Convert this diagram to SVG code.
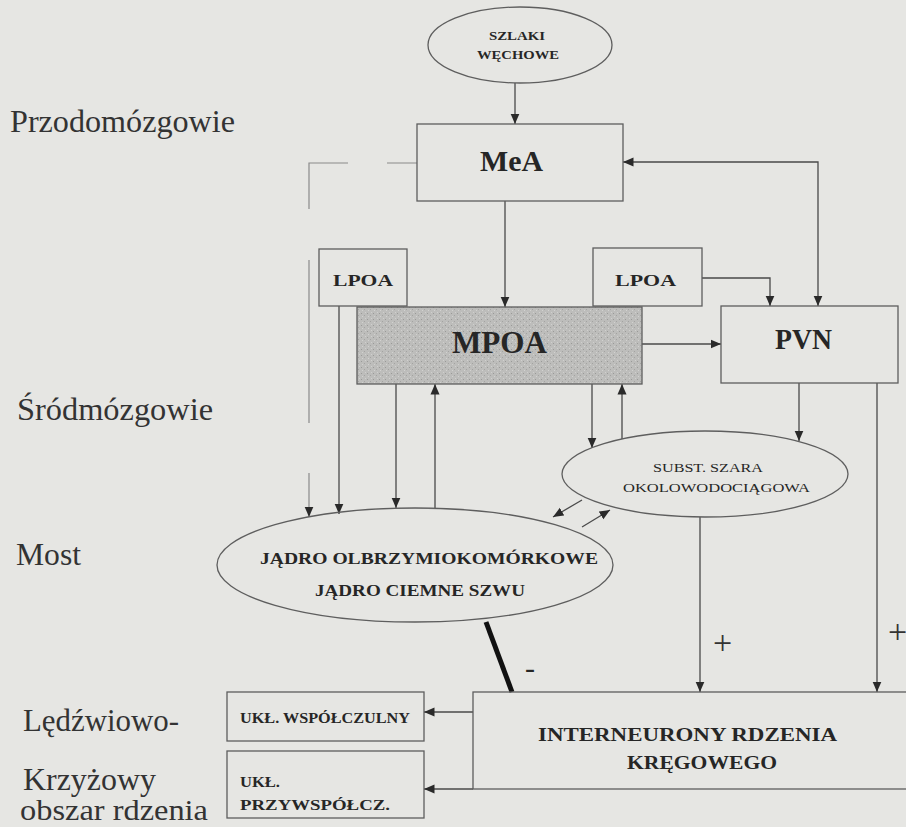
<svg xmlns="http://www.w3.org/2000/svg" width="906" height="827" viewBox="0 0 906 827">
<style>
  .bg { fill: #e6e6e3; }
  .box { fill: none; stroke: #5e5e5e; stroke-width: 1.3; }
  .ell { fill: none; stroke: #5e5e5e; stroke-width: 1.3; }
  .mpoa { fill: url(#stipple); stroke: #5e5e5e; stroke-width: 1.3; }
  .ln { fill: none; stroke: #4a4a4a; stroke-width: 1.3; }
  .faint { fill: none; stroke: #8a8a8a; stroke-width: 1.2; }
  .inh { fill: none; stroke: #111; stroke-width: 5; }
  .t { font-family: "Liberation Serif", "Times New Roman", serif; fill: #262626; }
  .b { font-weight: bold; }
  .lab { font-size: 32px; fill: #333; }
  .sign { font-size: 34px; fill: #333; }
</style>
<defs>
  <marker id="ah" markerUnits="userSpaceOnUse" markerWidth="11" markerHeight="10" refX="10.5" refY="5" orient="auto-start-reverse">
    <path d="M0,0.5 L10.5,5 L0,9.5 z" fill="#2a2a2a"/>
  </marker>
  <pattern id="stipple" patternUnits="userSpaceOnUse" width="6" height="6">
    <rect width="6" height="6" fill="#bdbdbb"/>
    <rect x="1" y="1" width="1" height="1" fill="#9a9a98"/>
    <rect x="4" y="3" width="1" height="1" fill="#a3a3a1"/>
    <rect x="2" y="4" width="1" height="1" fill="#d2d2d0"/>
    <rect x="5" y="0" width="1" height="1" fill="#d0d0ce"/>
  </pattern>
</defs>
<rect class="bg" x="0" y="0" width="906" height="827"/>

<g id="region-labels">
  <text class="t lab" x="10" y="132" textLength="225" lengthAdjust="spacingAndGlyphs">Przodomózgowie</text>
  <text class="t lab" x="17" y="420" textLength="196" lengthAdjust="spacingAndGlyphs">Śródmózgowie</text>
  <text class="t lab" x="16" y="565" textLength="65" lengthAdjust="spacingAndGlyphs">Most</text>
  <text class="t lab" x="23" y="731" textLength="156" lengthAdjust="spacingAndGlyphs">Lędźwiowo-</text>
  <text class="t lab" x="23" y="790" textLength="133" lengthAdjust="spacingAndGlyphs">Krzyżowy</text>
  <text class="t" x="20" y="820" style="font-size:29px;fill:#333" textLength="188" lengthAdjust="spacingAndGlyphs">obszar rdzenia</text>
</g>

<g id="connectors">
  <path class="ln" d="M515,83 V124" marker-end="url(#ah)"/>
  <path class="ln" d="M505,201 V307" marker-end="url(#ah)"/>
  <path class="faint" d="M417,163 H387 M348,163 H309 V209 M309,260 V423 M309,473 V517" marker-end="url(#ah)"/>
  <path class="ln" d="M339,306 V514" marker-end="url(#ah)"/>
  <path class="ln" d="M396,384 V508" marker-end="url(#ah)"/>
  <path class="ln" d="M435,508 V384" marker-end="url(#ah)"/>
  <path class="ln" d="M592,384 V448" marker-end="url(#ah)"/>
  <path class="ln" d="M622,439 V384" marker-end="url(#ah)"/>
  <path class="ln" d="M582,500 L553,517" marker-end="url(#ah)"/>
  <path class="ln" d="M582,527 L610,510" marker-end="url(#ah)"/>
  <path class="ln" d="M642,344 H721" marker-end="url(#ah)"/>
  <path class="ln" d="M702,278 H770 V306" marker-end="url(#ah)"/>
  <path class="ln" d="M623,162 H818 V306" marker-start="url(#ah)" marker-end="url(#ah)"/>
  <path class="ln" d="M799,383 V441" marker-end="url(#ah)"/>
  <path class="ln" d="M700,517 V692" marker-end="url(#ah)"/>
  <path class="ln" d="M877,383 V692" marker-end="url(#ah)"/>
  <path class="ln" d="M473,712 H424" marker-end="url(#ah)"/>
  <path class="ln" d="M473,789 H424" marker-end="url(#ah)"/>
  <path class="inh" d="M486,622 L512,692"/>
  <text class="t sign" x="713" y="654">+</text>
  <text class="t sign" x="888" y="643">+</text>
  <text class="t" x="525" y="678" style="font-size:30px">-</text>
</g>

<g id="szlaki-wechowe">
  <ellipse class="ell" cx="520" cy="45" rx="92" ry="38"/>
  <text class="t b" x="517" y="40" text-anchor="middle" style="font-size:13px" textLength="56" lengthAdjust="spacingAndGlyphs">SZLAKI</text>
  <text class="t b" x="518" y="59" text-anchor="middle" style="font-size:13px" textLength="82" lengthAdjust="spacingAndGlyphs">WĘCHOWE</text>
</g>

<g id="mea">
  <rect class="box" x="417" y="124" width="206" height="77"/>
  <text class="t b" x="511.5" y="171" text-anchor="middle" style="font-size:29px" textLength="63" lengthAdjust="spacingAndGlyphs">MeA</text>
</g>

<g id="lpoa-left">
  <rect class="box" x="319" y="249" width="88" height="57"/>
  <text class="t b" x="363" y="286" text-anchor="middle" style="font-size:17px" textLength="60" lengthAdjust="spacingAndGlyphs">LPOA</text>
</g>

<g id="lpoa-right">
  <rect class="box" x="593" y="248" width="109" height="58"/>
  <text class="t b" x="645.5" y="286" text-anchor="middle" style="font-size:17px" textLength="61" lengthAdjust="spacingAndGlyphs">LPOA</text>
</g>

<g id="mpoa">
  <rect class="mpoa" x="357" y="307" width="285" height="77"/>
  <text class="t b" x="499.5" y="353" text-anchor="middle" style="font-size:32px" textLength="95" lengthAdjust="spacingAndGlyphs">MPOA</text>
</g>

<g id="pvn">
  <rect class="box" x="721" y="306" width="177" height="77"/>
  <text class="t b" x="803.5" y="349" text-anchor="middle" style="font-size:29px" textLength="57" lengthAdjust="spacingAndGlyphs">PVN</text>
</g>

<g id="subst-szara">
  <ellipse class="ell" cx="705" cy="474" rx="143" ry="43"/>
  <text class="t" x="708" y="472" text-anchor="middle" style="font-size:13px" textLength="110" lengthAdjust="spacingAndGlyphs">SUBST. SZARA</text>
  <text class="t" x="716.5" y="492" text-anchor="middle" style="font-size:13px" textLength="187" lengthAdjust="spacingAndGlyphs">OKOLOWODOCIĄGOWA</text>
</g>

<g id="jadro">
  <ellipse class="ell" cx="415" cy="565" rx="198" ry="57"/>
  <text class="t b" x="429" y="564" text-anchor="middle" style="font-size:17px" textLength="338" lengthAdjust="spacingAndGlyphs">JĄDRO OLBRZYMIOKOMÓRKOWE</text>
  <text class="t b" x="420" y="596" text-anchor="middle" style="font-size:17px" textLength="210" lengthAdjust="spacingAndGlyphs">JĄDRO CIEMNE SZWU</text>
</g>

<g id="interneurony">
  <rect class="box" x="473" y="692" width="460" height="97"/>
  <text class="t b" x="687.5" y="741" text-anchor="middle" style="font-size:19px" textLength="299" lengthAdjust="spacingAndGlyphs">INTERNEURONY RDZENIA</text>
  <text class="t b" x="702" y="769" text-anchor="middle" style="font-size:19px" textLength="150" lengthAdjust="spacingAndGlyphs">KRĘGOWEGO</text>
</g>

<g id="ukl-wspolczulny">
  <rect class="box" x="227" y="692" width="197" height="49"/>
  <text class="t b" x="240" y="723" style="font-size:14px" textLength="170" lengthAdjust="spacingAndGlyphs">UKŁ. WSPÓŁCZULNY</text>
</g>

<g id="ukl-przywspolcz">
  <rect class="box" x="227" y="751" width="197" height="67"/>
  <text class="t b" x="240" y="787" style="font-size:14px" textLength="40" lengthAdjust="spacingAndGlyphs">UKŁ.</text>
  <text class="t b" x="240" y="810" style="font-size:14px" textLength="150" lengthAdjust="spacingAndGlyphs">PRZYWSPÓŁCZ.</text>
</g>
</svg>
